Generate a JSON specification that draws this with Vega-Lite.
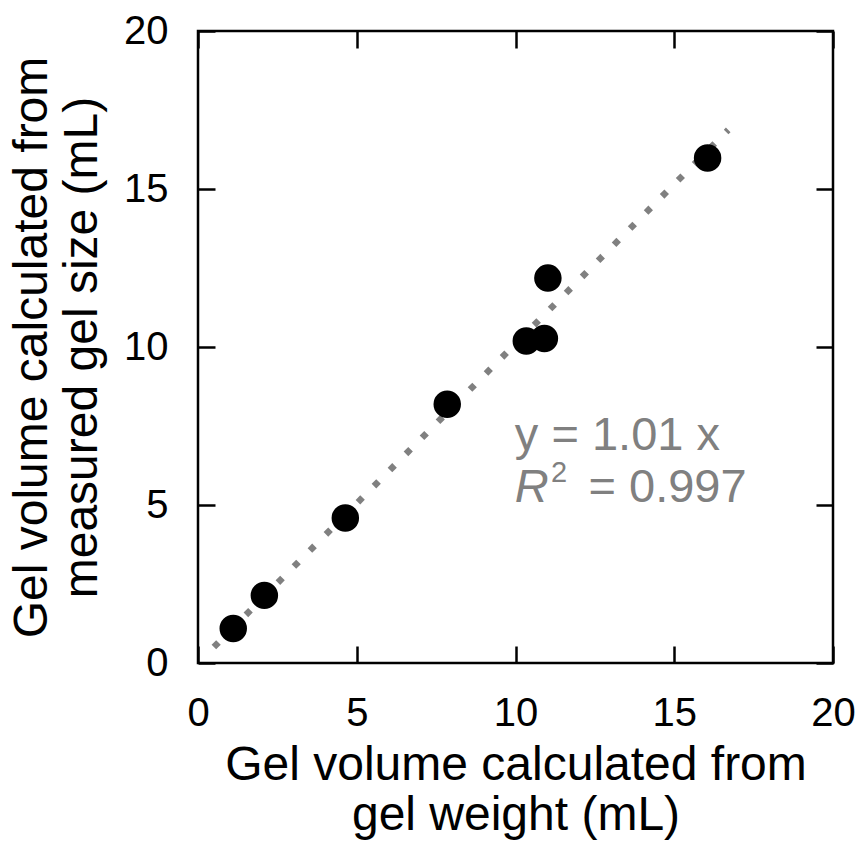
{
  "$schema": "https://vega.github.io/schema/vega-lite/v6.json",
  "width": 635,
  "height": 632,
  "autosize": "none",
  "padding": {"left": 198, "top": 31, "right": 28, "bottom": 179},
  "background": "white",
  "config": {
    "view": {"stroke": "black", "strokeWidth": 2.5},
    "font": "Liberation Sans",
    "axis": {
      "domain": false,
      "grid": false,
      "tickColor": "black",
      "tickWidth": 2.5,
      "tickSize": -17,
      "labelColor": "black",
      "labelFont": "Liberation Sans",
      "labelFontSize": 40,
      "titleFont": "Liberation Sans",
      "titleFontSize": 48,
      "titleFontWeight": "normal",
      "titleColor": "black",
      "titleLineHeight": 50
    }
  },
  "datasets": {
    "pts": [
      {"weight": 1.11, "size": 1.09},
      {"weight": 2.09, "size": 2.14},
      {"weight": 4.64, "size": 4.59},
      {"weight": 7.85, "size": 8.19},
      {"weight": 10.34, "size": 10.19},
      {"weight": 10.91, "size": 10.27},
      {"weight": 11.02, "size": 12.18},
      {"weight": 16.05, "size": 15.98}
    ],
    "fit": [
      {"weight": 0.5, "size": 0.505},
      {"weight": 16.7, "size": 16.87}
    ],
    "eq": [{"weight": 9.98, "size": 6.73, "label": "y = 1.01 x"}],
    "rlab": [{"weight": 9.98, "size": 5.08, "label": "R"}],
    "sup": [{"weight": 11.12, "size": 5.72, "label": "2"}],
    "rval": [{"weight": 12.3, "size": 5.08, "label": "= 0.997"}]
  },
  "layer": [
    {
      "data": {"name": "fit"},
      "mark": {"type": "line", "color": "#808080", "strokeWidth": 6.5, "strokeDash": [6.5, 16.2], "strokeCap": "butt"},
      "encoding": {
        "x": {"field": "weight", "type": "quantitative", "scale": {"domain": [0, 20], "nice": false, "zero": false},
              "axis": {"orient": "top", "values": [0, 5, 10, 15, 20], "labels": false, "title": null}},
        "y": {"field": "size", "type": "quantitative", "scale": {"domain": [0, 20], "nice": false, "zero": false},
              "axis": {"orient": "right", "values": [0, 5, 10, 15, 20], "labels": false, "title": null}}
      }
    },
    {
      "data": {"name": "pts"},
      "mark": {"type": "circle", "color": "black", "opacity": 1, "size": 755},
      "encoding": {
        "x": {"field": "weight", "type": "quantitative",
              "axis": {"orient": "bottom", "values": [0, 5, 10, 15, 20], "labelPadding": 47, "labelFlush": false,
                       "title": ["Gel volume calculated from", "gel weight (mL)"], "titlePadding": 8}},
        "y": {"field": "size", "type": "quantitative",
              "axis": {"orient": "left", "values": [0, 5, 10, 15, 20], "labelPadding": 47, "labelFlush": false,
                       "title": ["Gel volume calculated from", "measured gel size (mL)"], "titlePadding": 17}}
      }
    },
    {
      "data": {"name": "eq"},
      "mark": {"type": "text", "color": "#808080", "fontSize": 47, "align": "left", "baseline": "alphabetic", "font": "Liberation Sans"},
      "encoding": {
        "x": {"field": "weight", "type": "quantitative", "axis": null},
        "y": {"field": "size", "type": "quantitative", "axis": null},
        "text": {"field": "label"}
      }
    },
    {
      "data": {"name": "rlab"},
      "mark": {"type": "text", "color": "#808080", "fontSize": 47, "fontStyle": "italic", "align": "left", "baseline": "alphabetic", "font": "Liberation Sans"},
      "encoding": {
        "x": {"field": "weight", "type": "quantitative", "axis": null},
        "y": {"field": "size", "type": "quantitative", "axis": null},
        "text": {"field": "label"}
      }
    },
    {
      "data": {"name": "sup"},
      "mark": {"type": "text", "color": "#808080", "fontSize": 29, "align": "left", "baseline": "alphabetic", "font": "Liberation Sans"},
      "encoding": {
        "x": {"field": "weight", "type": "quantitative", "axis": null},
        "y": {"field": "size", "type": "quantitative", "axis": null},
        "text": {"field": "label"}
      }
    },
    {
      "data": {"name": "rval"},
      "mark": {"type": "text", "color": "#808080", "fontSize": 47, "align": "left", "baseline": "alphabetic", "font": "Liberation Sans"},
      "encoding": {
        "x": {"field": "weight", "type": "quantitative", "axis": null},
        "y": {"field": "size", "type": "quantitative", "axis": null},
        "text": {"field": "label"}
      }
    }
  ],
  "resolve": {"axis": {"x": "independent", "y": "independent"}}
}
